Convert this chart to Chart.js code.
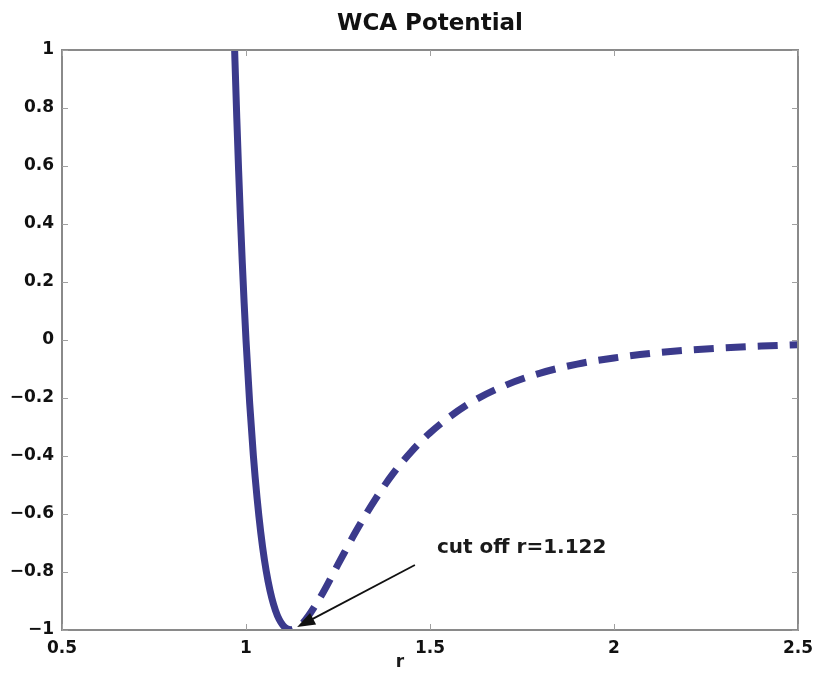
<!DOCTYPE html>
<html>
<head>
<meta charset="utf-8">
<script src="https://cdn.jsdelivr.net/npm/chart.js@4/dist/chart.umd.min.js"></script>
<style>
  html, body { margin: 0; padding: 0; background: #ffffff; }
  #wrap { width: 815px; height: 678px; }
</style>
</head>
<body>
<div id="wrap"><canvas id="c" width="815" height="678"></canvas></div>
<script>
// ---- data ----
const titleText = 'WCA Potential';
const xAxisLabel = 'r';
const annotationText = 'cut off r=1.122';
const cutoffR = 1.122;

// solid (repulsive, kept) branch of the potential
const solidR = [0.968, 0.97, 0.975, 0.98, 0.985, 0.99, 0.995, 1.0, 1.01, 1.02, 1.03, 1.04, 1.05, 1.06, 1.07, 1.08, 1.09, 1.10, 1.11, 1.122];
const solidV = [1.048, 0.963, 0.764, 0.582, 0.416, 0.264, 0.126, 0.0, -0.218, -0.398, -0.544, -0.663, -0.758, -0.832, -0.889, -0.932, -0.963, -0.983, -0.995, -1.0];

// dashed (cut off) branch
const dashedR = [1.122, 1.15, 1.2, 1.25, 1.3, 1.35, 1.4, 1.45, 1.5, 1.6, 1.7, 1.8, 1.9, 2.0, 2.1, 2.2, 2.3, 2.4, 2.5];
const dashedV = [-1.0, -0.982, -0.891, -0.774, -0.657, -0.552, -0.460, -0.384, -0.320, -0.224, -0.159, -0.114, -0.083, -0.062, -0.046, -0.035, -0.027, -0.021, -0.016];

// tick labels
const xTicks = [0.5, 1, 1.5, 2, 2.5];
const yTicks = [-1, -0.8, -0.6, -0.4, -0.2, 0, 0.2, 0.4, 0.6, 0.8, 1];

// arrow annotation (data coordinates): tail -> head
const arrowTail = { x: 1.459, y: -0.776 };
const arrowHead = { x: 1.139, y: -0.990 };
const textAnchor = { x: 1.519, y: -0.717 };

const lineColor = '#3b3a8c';
const fontFam = '"DejaVu Sans", "Liberation Sans", Arial, sans-serif';

function fmt(v) {
  const s = (Math.round(v * 10) / 10).toString();
  return s.replace('-', '\u2212');
}

const frame = {
  id: 'frame',
  afterDatasetsDraw(chart) {
    const { ctx, chartArea: a, scales } = chart;
    const xs = scales.x, ys = scales.y;
    ctx.save();
    // box
    ctx.strokeStyle = '#8a8a8a';
    ctx.lineWidth = 2;
    ctx.strokeRect(a.left, a.top, a.right - a.left, a.bottom - a.top);
    // inward tick marks
    ctx.lineWidth = 1;
    ctx.strokeStyle = '#a0a0a0';
    const tl = 6;
    xTicks.forEach(v => {
      const px = Math.round(xs.getPixelForValue(v)) + 0.5;
      ctx.beginPath();
      ctx.moveTo(px, a.bottom); ctx.lineTo(px, a.bottom - tl);
      ctx.moveTo(px, a.top); ctx.lineTo(px, a.top + tl);
      ctx.stroke();
    });
    yTicks.forEach(v => {
      const py = Math.round(ys.getPixelForValue(v)) + 0.5;
      ctx.beginPath();
      ctx.moveTo(a.left, py); ctx.lineTo(a.left + tl, py);
      ctx.moveTo(a.right, py); ctx.lineTo(a.right - tl, py);
      ctx.stroke();
    });
    // arrow
    const x1 = xs.getPixelForValue(arrowTail.x), y1 = ys.getPixelForValue(arrowTail.y);
    const x2 = xs.getPixelForValue(arrowHead.x), y2 = ys.getPixelForValue(arrowHead.y);
    const ang = Math.atan2(y2 - y1, x2 - x1);
    const hl = 18, hw = 6.5;
    ctx.strokeStyle = '#111111';
    ctx.fillStyle = '#111111';
    ctx.lineWidth = 1.8;
    ctx.beginPath();
    ctx.moveTo(x1, y1);
    ctx.lineTo(x2 - hl * Math.cos(ang) * 0.8, y2 - hl * Math.sin(ang) * 0.8);
    ctx.stroke();
    ctx.beginPath();
    ctx.moveTo(x2, y2);
    ctx.lineTo(x2 - hl * Math.cos(ang) + hw * Math.sin(ang), y2 - hl * Math.sin(ang) - hw * Math.cos(ang));
    ctx.lineTo(x2 - hl * Math.cos(ang) - hw * Math.sin(ang), y2 - hl * Math.sin(ang) + hw * Math.cos(ang));
    ctx.closePath();
    ctx.fill();
    // annotation text
    ctx.font = 'bold 20px ' + fontFam;
    ctx.fillStyle = '#1a1a1a';
    ctx.textAlign = 'left';
    ctx.textBaseline = 'middle';
    ctx.fillText(annotationText, xs.getPixelForValue(textAnchor.x), ys.getPixelForValue(textAnchor.y));
    // x axis label
    ctx.font = 'bold 17px ' + fontFam;
    ctx.textAlign = 'center';
    ctx.fillText(xAxisLabel, (a.left + a.right) / 2 - 30, a.bottom + 33);
    ctx.restore();
  }
};

new Chart(document.getElementById('c'), {
  type: 'line',
  data: {
    datasets: [
      {
        data: solidR.map((r, i) => ({ x: r, y: solidV[i] })),
        borderColor: lineColor,
        borderWidth: 7,
        pointRadius: 0,
        cubicInterpolationMode: 'monotone',
        clip: 0,
        fill: false
      },
      {
        data: dashedR.map((r, i) => ({ x: r, y: dashedV[i] })),
        borderColor: lineColor,
        borderWidth: 7,
        borderDash: [20, 12],
        borderDashOffset: -14,
        pointRadius: 0,
        cubicInterpolationMode: 'monotone',
        clip: 0,
        fill: false
      }
    ]
  },
  options: {
    responsive: false,
    animation: false,
    devicePixelRatio: 1,
    layout: { padding: { left: 0, right: 17, top: 0, bottom: 0 } },
    plugins: {
      legend: { display: false },
      tooltip: { enabled: false },
      title: {
        display: true,
        fullSize: false,
        text: titleText,
        color: '#111111',
        font: { family: fontFam, size: 23, weight: 'bold', lineHeight: 1.2 },
        padding: { top: 10, bottom: 12.4 }
      }
    },
    scales: {
      x: {
        type: 'linear',
        min: 0.5, max: 2.5,
        afterBuildTicks: s => { s.ticks = xTicks.map(v => ({ value: v })); },
        afterFit: s => { s.height = 48; s.paddingRight = 0; s.paddingLeft = 0; },
        grid: { display: false, drawTicks: false },
        border: { display: false },
        ticks: {
          color: '#111111',
          padding: 8,
          maxRotation: 0,
          font: { family: fontFam, size: 17, weight: 'bold' },
          callback: v => fmt(v)
        }
      },
      y: {
        type: 'linear',
        min: -1, max: 1,
        afterBuildTicks: s => { s.ticks = yTicks.map(v => ({ value: v })); },
        afterFit: s => { s.width = 62; s.paddingTop = 0; s.paddingBottom = 0; },
        grid: { display: false, drawTicks: false },
        border: { display: false },
        ticks: {
          color: '#111111',
          padding: 8,
          font: { family: fontFam, size: 17, weight: 'bold' },
          callback: v => fmt(v)
        }
      }
    }
  },
  plugins: [frame]
});
</script>
</body>
</html>
